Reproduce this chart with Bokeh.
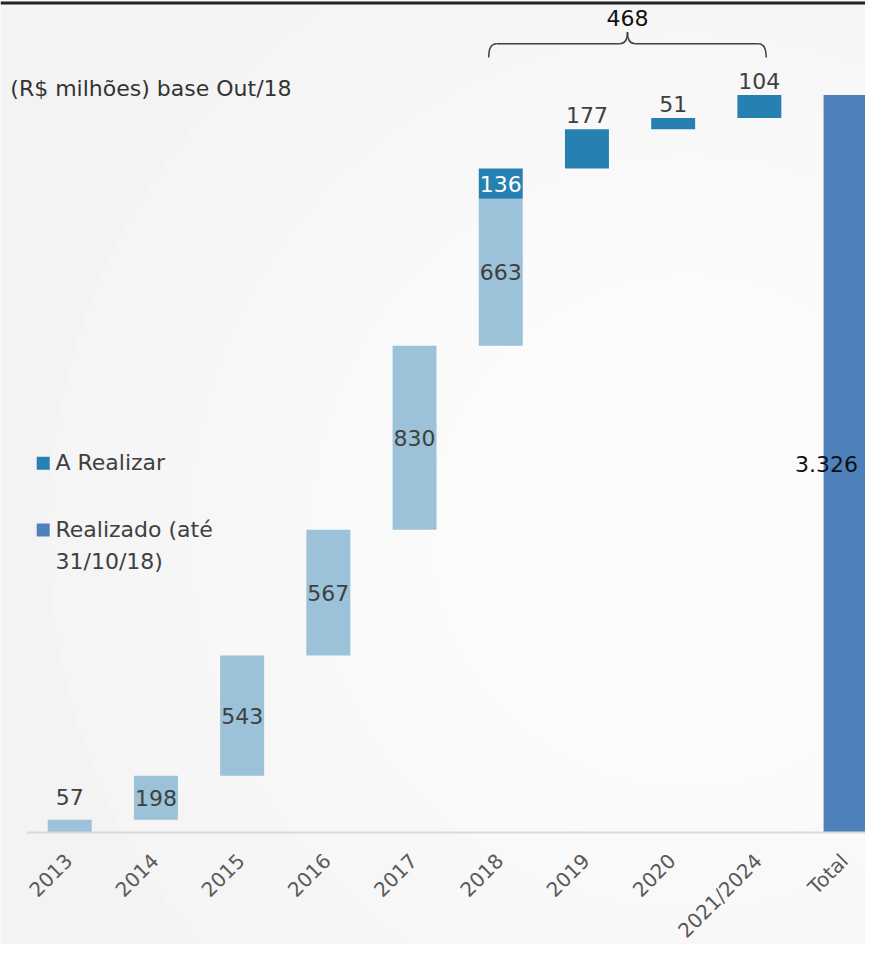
import math
from bokeh.plotting import figure
from bokeh.models import Range1d, Span
from bokeh.core.properties import value
from bokeh.embed import file_html
from bokeh.resources import INLINE

# ---------------- data ----------------
categories = ["2013", "2014", "2015", "2016", "2017", "2018", "2019", "2020", "2021/2024", "Total"]
realizado = [57, 198, 543, 567, 830, 663, 0, 0, 0]
a_realizar = [0, 0, 0, 0, 0, 136, 177, 51, 104]
unit_title = "(R$ milhões) base Out/18"
legend_a_realizar = "A Realizar"
legend_realizado = ["Realizado (até", "31/10/18)"]

# ---------------- style ----------------
C_REAL = "#9BC2D8"
C_AREAL = "#2780B2"
C_TOTAL = "#4F81BD"
TXT = "#404040"
FONT = "DejaVu Sans"

W, H = 865, 944          # figure size (fits the window with its margin)
REF_W, REF_H = 881, 960  # layout designed on this canvas, scaled to the figure
PXX = 87.8               # layout px per category
PXY = 0.2255             # layout px per value unit
BASE_PX = 846            # baseline position (layout px from top)
X_START = -26.6 / PXX
X_END = X_START + REF_W / PXX
Y_END = BASE_PX / PXY
Y_START = (BASE_PX - REF_H) / PXY


def px_x(px):
    return X_START + px / PXX


def px_y(py):
    return (BASE_PX - py) / PXY


p = figure(width=W, height=H, output_backend="svg", toolbar_location=None,
           x_range=Range1d(X_START, X_END), y_range=Range1d(Y_START, Y_END),
           min_border_left=0, min_border_right=0, min_border_top=0, min_border_bottom=0)
p.background_fill_color = "#f3f3f3"
p.border_fill_color = "#f5f5f5"
p.outline_line_color = None
p.grid.visible = False
p.xaxis.visible = False
p.yaxis.visible = False

# soft radial background highlight
for r in [640, 570, 500, 440, 380, 320, 260, 200]:
    p.circle(x=[px_x(700)], y=[px_y(540)], radius=r, radius_units="screen",
             fill_color="white", fill_alpha=0.18, line_color=None)

# ---------------- waterfall ----------------
xs = [i + 0.5 for i in range(len(categories))]
BW = 0.51
cum = 0
r_x, r_b, r_t, r_v = [], [], [], []
a_x, a_b, a_t, a_v, a_stacked = [], [], [], [], []
for i, (rv, av) in enumerate(zip(realizado, a_realizar)):
    if rv:
        r_x.append(xs[i]); r_b.append(cum); r_t.append(cum + rv); r_v.append(rv)
    cum += rv
    if av:
        a_x.append(xs[i]); a_b.append(cum); a_t.append(cum + av); a_v.append(av)
        a_stacked.append(rv > 0)
    cum += av
total = cum

p.vbar(x=r_x, bottom=r_b, top=r_t, width=BW, fill_color=C_REAL, line_color=None)
p.vbar(x=a_x, bottom=a_b, top=a_t, width=BW, fill_color=C_AREAL, line_color=None)
p.vbar(x=[xs[-1]], bottom=[0], top=[total], width=BW, fill_color=C_TOTAL, line_color=None)

LBL = "22px"
MIN_INSIDE_PX = 28
# realizado labels
for x, b, t, v in zip(r_x, r_b, r_t, r_v):
    if (t - b) * PXY >= MIN_INSIDE_PX:
        p.text(x=[x], y=[(b + t) / 2], text=[str(v)], text_align="center", text_baseline="middle",
               text_font=value(FONT), text_font_size=LBL, text_color=TXT)
    else:
        p.text(x=[x], y=[t], text=[str(v)], text_align="center", text_baseline="bottom", y_offset=-15,
               text_font=value(FONT), text_font_size=LBL, text_color=TXT)
# a realizar labels
for x, b, t, v, st in zip(a_x, a_b, a_t, a_v, a_stacked):
    if st:
        p.text(x=[x], y=[(b + t) / 2], text=[str(v)], text_align="center", text_baseline="middle",
               text_font=value(FONT), text_font_size=LBL, text_color="white")
    else:
        p.text(x=[x], y=[t], text=[str(v)], text_align="center", text_baseline="bottom", y_offset=-6,
               text_font=value(FONT), text_font_size=LBL, text_color=TXT)
# total label
total_txt = f"{total:,}".replace(",", ".")
p.text(x=[xs[-1]], y=[total / 2], text=[total_txt], text_align="center", text_baseline="middle",
       x_offset=-19, text_font=value(FONT), text_font_size=LBL, text_color="#111111")

# ---------------- brace over "a realizar" ----------------
fut = [i for i, v in enumerate(a_realizar) if v]
bx0 = xs[fut[0]] - 0.14
bx1 = xs[fut[-1]] + 0.08
bxc = (bx0 + bx1) / 2
yb = total + 38 / PXY
ym = total + 52 / PXY
yt = total + 64 / PXY
dx = 8 / PXX
BR = dict(line_color="#404040", line_width=1.5)
p.quadratic(x0=[bx0, bx1, bxc, bxc], y0=[yb, yb, yt, yt],
            x1=[bx0 + dx, bx1 - dx, bxc - dx, bxc + dx], y1=[ym, ym, ym, ym],
            cx=[bx0, bx1, bxc, bxc], cy=[ym, ym, ym, ym], **BR)
p.segment(x0=[bx0 + dx, bxc + dx], y0=[ym, ym], x1=[bxc - dx, bx1 - dx], y1=[ym, ym], **BR)
p.text(x=[bxc], y=[yt], text=[str(sum(a_realizar))], text_align="center", text_baseline="bottom",
       y_offset=-6, text_font=value(FONT), text_font_size=LBL, text_color="#111111")

# ---------------- title / legend ----------------
p.text(x=[px_x(10)], y=[px_y(89)], text=[unit_title], text_align="left", text_baseline="middle",
       text_font=value(FONT), text_font_size="22px", text_color="#333333")

p.scatter(x=[px_x(43.5)], y=[px_y(470.5)], marker="square", size=13, fill_color=C_AREAL, line_color=None)
p.scatter(x=[px_x(43.5)], y=[px_y(538.5)], marker="square", size=13, fill_color=C_TOTAL, line_color=None)
p.text(x=[px_x(56)], y=[px_y(470)], text=[legend_a_realizar], text_align="left", text_baseline="middle",
       text_font=value(FONT), text_font_size="22px", text_color=TXT)
p.text(x=[px_x(56)] * len(legend_realizado),
       y=[px_y(538 + 33 * k) for k in range(len(legend_realizado))],
       text=legend_realizado, text_align="left", text_baseline="middle",
       text_font=value(FONT), text_font_size="22px", text_color=TXT)

# ---------------- baseline, axis labels, top rule ----------------
p.segment(x0=[0], y0=[0], x1=[X_END], y1=[0], line_color="#d9d9d9", line_width=2)
p.text(x=xs, y=[0] * len(xs), text=categories, angle=math.pi / 4,
       text_align="right", text_baseline="middle", x_offset=-1, y_offset=25,
       text_font=value(FONT), text_font_size="20px", text_color="#595959")
p.add_layout(Span(location=Y_END - 2.5 / PXY, dimension="width", line_color="#222222", line_width=3))

open("out.html", "w").write(file_html(p, INLINE))
